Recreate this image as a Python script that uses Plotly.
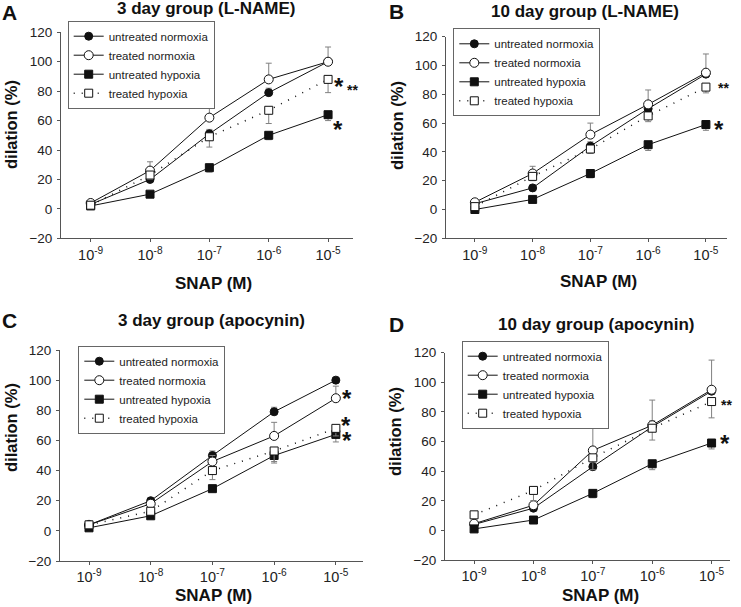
import plotly.graph_objects as go

W, H = 741, 607

# ---------------- data ----------------
snap = [1e-9, 1e-8, 1e-7, 1e-6, 1e-5]
tick_text = ["10<sup>-9</sup>", "10<sup>-8</sup>", "10<sup>-7</sup>", "10<sup>-6</sup>", "10<sup>-5</sup>"]
series_names = ["untreated normoxia", "treated normoxia", "untreated hypoxia", "treated hypoxia"]

# Panel A: 3 day group (L-NAME)
A_un = [3, 20, 51, 79, 100];   A_un_err = [1, 2, 3, 3, 0]
A_tn = [4, 26, 62, 88, 100];   A_tn_err = [1, 6, 10, 11, 10]
A_uh = [2, 10, 28, 50, 64];    A_uh_err = [1, 1, 3, 3, 4]
A_th = [2.5, 23, 49, 67, 88];  A_th_err = [1, 3, 7, 9, 9]

# Panel B: 10 day group (L-NAME)
B_un = [4, 15, 44, 70, 94];    B_un_err = [1, 2, 3, 3, 3]
B_tn = [5, 25, 52, 73, 95];    B_tn_err = [1, 5, 8, 10, 13]
B_uh = [0, 7, 25, 45, 59];     B_uh_err = [1, 1, 3, 4, 4]
B_th = [2, 23, 42, 65, 85];    B_th_err = [1, 3, 3, 4, 4]

# Panel C: 3 day group (apocynin)
C_un = [4, 20, 50, 79, 100];   C_un_err = [1, 1, 3, 3, 0]
C_tn = [4, 18, 46, 63, 88];    C_tn_err = [1, 2, 4, 9, 8]
C_uh = [2, 10, 28, 50, 64];    C_uh_err = [1, 1, 2, 5, 5]
C_th = [4, 13, 40, 53, 68];    C_th_err = [1, 2, 6, 7, 5]

# Panel D: 10 day group (apocynin)
D_un = [4, 15, 43, 70, 94];    D_un_err = [1, 2, 3, 4, 3]
D_tn = [4.5, 17, 54, 71, 95];  D_tn_err = [1, 3, 16, 17, 20]
D_uh = [1, 7, 25, 45, 59];     D_uh_err = [1, 1, 3, 4, 4]
D_th = [10.5, 27, 49, 69, 87]; D_th_err = [1, 7, 8, 8, 11]

panel_titles = ["3 day group (L-NAME)", "10 day group (L-NAME)",
                "3 day group (apocynin)", "10 day group (apocynin)"]
panel_letters = ["A", "B", "C", "D"]

# ---------------- layout helpers ----------------
def px_x(p):
    return p / W

def px_y(p):
    return 1 - p / H

FONT = "Liberation Sans, Arial, sans-serif"
LINE = "#111111"
ERR = "#808080"

panels = [
    dict(data=[(A_un, A_un_err), (A_tn, A_tn_err), (A_uh, A_uh_err), (A_th, A_th_err)],
         xd=(61, 353), yd=(32.3, 238.3), xr=(-9.5, -4.58), leg=(67.7, 20.7),
         letter=(9, 0, "top"), title=(206, 9), xt=(213, 283), yt=(11, 125)),
    dict(data=[(B_un, B_un_err), (B_tn, B_tn_err), (B_uh, B_uh_err), (B_th, B_th_err)],
         xd=(446, 726.7), yd=(36.7, 238.3), xr=(-9.5, -4.64), leg=(453.3, 28.3),
         letter=(397, 11, "middle"), title=(585, 11), xt=(598, 281), yt=(397, 125)),
    dict(data=[(C_un, C_un_err), (C_tn, C_tn_err), (C_uh, C_uh_err), (C_th, C_th_err)],
         xd=(60, 363), yd=(350, 561), xr=(-9.47, -4.56), leg=(78.3, 345.7),
         letter=(9, 320, "middle"), title=(212, 321), xt=(213, 595), yt=(11, 428)),
    dict(data=[(D_un, D_un_err), (D_tn, D_tn_err), (D_uh, D_uh_err), (D_th, D_th_err)],
         xd=(445, 730), yd=(352.7, 560), xr=(-9.49, -4.69), leg=(461.7, 340.7),
         letter=(396, 325, "middle"), title=(596, 325), xt=(600, 595), yt=(395, 432)),
]

styles = [
    dict(symbol="circle", fill=LINE, dash="solid", up=True, size=8),
    dict(symbol="circle", fill="white", dash="solid", up=True, size=9),
    dict(symbol="square", fill=LINE, dash="solid", up=False, size=8),
    dict(symbol="square", fill="white", dash="1px,7px", up=False, size=8),
]

fig = go.Figure()
layout = dict(width=W, height=H, margin=dict(l=0, r=0, t=0, b=0, autoexpand=False),
              paper_bgcolor="white", plot_bgcolor="white", showlegend=True,
              font=dict(family=FONT, color="#111111"))
annotations = []

for i, p in enumerate(panels):
    n = "" if i == 0 else str(i + 1)
    xa, ya = "x" + n, "y" + n
    legname = "legend" + n
    for j, (vals, errs) in enumerate(p["data"]):
        s = styles[j]
        zeros = [0] * len(errs)
        fig.add_trace(go.Scatter(
            x=snap, y=vals, name=series_names[j], mode="lines+markers",
            xaxis=xa, yaxis=ya, legend=legname,
            line=dict(color=LINE, width=1.5 if j == 3 else 1, dash=s["dash"]),
            marker=dict(symbol=s["symbol"], size=s["size"], color=s["fill"],
                        line=dict(color=LINE, width=1)),
            error_y=dict(type="data", symmetric=False,
                         array=errs if s["up"] else zeros,
                         arrayminus=zeros if s["up"] else errs,
                         color=ERR, thickness=1, width=3),
        ))
    layout["xaxis" + n] = dict(
        type="log", range=list(p["xr"]), domain=[px_x(p["xd"][0]), px_x(p["xd"][1])],
        anchor=ya, tickvals=snap, ticktext=tick_text, ticks="outside", ticklen=3,
        tickcolor="#555", showline=True, linecolor="#555", linewidth=1,
        showgrid=False, zeroline=False, tickfont=dict(size=14.5, color="#222"),
        ticklabelstandoff=0)
    layout["yaxis" + n] = dict(
        range=[-20, 120], domain=[px_y(p["yd"][1]), px_y(p["yd"][0])],
        anchor=xa, tickmode="linear", tick0=0, dtick=20, ticks="outside", ticklen=3,
        tickcolor="#555", showline=True, linecolor="#555", linewidth=1,
        showgrid=False, zeroline=False, tickfont=dict(size=13.5, color="#222"),
        ticklabelstandoff=2)
    layout[legname] = dict(
        x=px_x(p["leg"][0]), y=px_y(p["leg"][1]), xanchor="left", yanchor="top",
        bgcolor="white", bordercolor="#666", borderwidth=1,
        font=dict(size=11.5, color="#222"), tracegroupgap=0, itemwidth=30)
    lx, ly, lanchor = p["letter"]
    annotations.append(dict(text="<b>%s</b>" % panel_letters[i], x=px_x(lx),
                            y=px_y(ly), xref="paper", yref="paper",
                            showarrow=False, font=dict(size=21, color="#111"),
                            xanchor="center", yanchor=lanchor, borderpad=0))
    annotations.append(dict(text="<b>%s</b>" % panel_titles[i], x=px_x(p["title"][0]),
                            y=px_y(p["title"][1]), xref="paper", yref="paper",
                            showarrow=False, font=dict(size=17, color="#111"),
                            xanchor="center", yanchor="middle"))
    annotations.append(dict(text="<b>SNAP (M)</b>", x=px_x(p["xt"][0]),
                            y=px_y(p["xt"][1]), xref="paper", yref="paper",
                            showarrow=False, font=dict(size=17, color="#111"),
                            xanchor="center", yanchor="middle", borderpad=0))
    annotations.append(dict(text="<b>dilation (%)</b>", x=px_x(p["yt"][0]),
                            y=px_y(p["yt"][1]), xref="paper", yref="paper", textangle=-90,
                            showarrow=False, font=dict(size=16.5, color="#111"),
                            xanchor="center", yanchor="middle"))

# significance marks (pixel positions of glyph centres)
stars = [
    ("*", 339, 80, 24), ("**", 352, 86, 14), ("*", 338, 123, 24),
    ("**", 723, 84, 14), ("*", 719, 123, 24),
    ("*", 347, 392, 24), ("*", 346, 419, 24), ("*", 347, 434, 24),
    ("**", 726, 401, 14), ("*", 725, 437, 24),
]
for txt, sx, sy, fs in stars:
    annotations.append(dict(text="<b>%s</b>" % txt, x=px_x(sx), y=px_y(sy + 0.27 * fs),
                            xref="paper", yref="paper", showarrow=False,
                            font=dict(size=fs, color="#111"), borderpad=0,
                            xanchor="center", yanchor="middle"))

layout["annotations"] = annotations
fig.update_layout(**layout)

page_fix = (
    "var gd=document.getElementById('{plot_id}');"
    "gd.style.position='fixed';gd.style.left='0px';gd.style.top='0px';"
    "document.body.style.margin='0';document.body.style.overflow='hidden';"
    "document.documentElement.style.overflow='hidden';"
)
fig.write_html("out.html", config={"displayModeBar": False},
               post_script=page_fix)
